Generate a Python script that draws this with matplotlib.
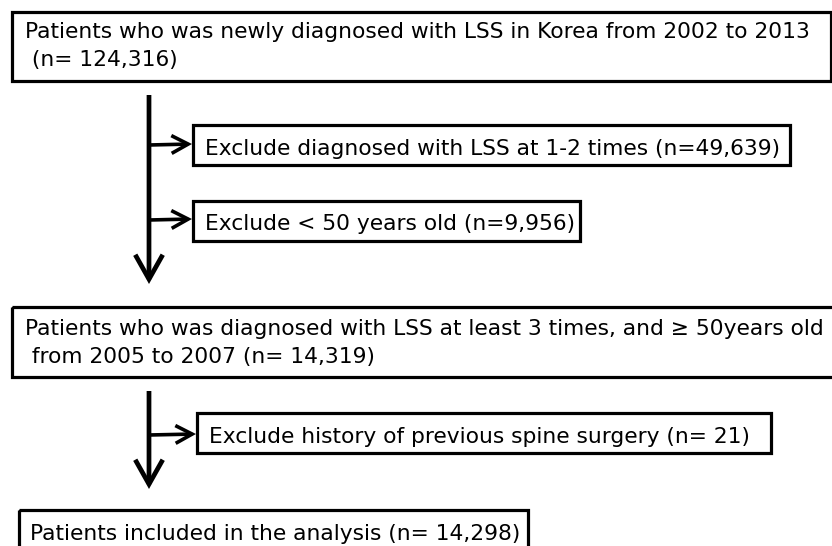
import matplotlib
matplotlib.use("Agg")
import matplotlib.pyplot as plt
from matplotlib.patches import Rectangle, FancyArrowPatch

plt.rcParams['font.family'] = ['DejaVu Sans']

# ---- content ----
main_texts = [
    "Patients who was newly diagnosed with LSS in Korea from 2002 to 2013\n (n= 124,316)",
    "Patients who was diagnosed with LSS at least 3 times, and \u2265 50years old\n from 2005 to 2007 (n= 14,319)",
    "Patients included in the analysis (n= 14,298)",
]
exclude_texts = [
    "Exclude diagnosed with LSS at 1-2 times (n=49,639)",
    "Exclude < 50 years old (n=9,956)",
    "Exclude history of previous spine surgery (n= 21)",
]

# ---- layout (pixel space) ----
W, H = 832, 546
main_boxes = [  # x0, y0, x1, y1
    (12, 12, 831, 81),
    (12, 307, 834, 377),
    (19, 510, 528, 560),
]
main_text_pos = [(25, 38), (25, 335), (30, 540)]
excl_boxes = [
    (193, 125, 790, 165),
    (193, 201, 580, 241),
    (197, 413, 771, 453),
]
excl_text_pos = [(205, 155), (205, 230), (209, 443)]
vert_arrows = [(149, 95, 284), (149, 391, 489)]
branch_arrows = [(149, 145, 193), (149, 220, 193), (149, 435, 197)]
TARGET_W = 785  # width of first text line in pixels

fig = plt.figure(figsize=(W / 100, H / 100), dpi=100)
ax = fig.add_axes([0, 0, 1, 1])
ax.set_xlim(0, W)
ax.set_ylim(H, 0)
ax.axis('off')

# fit font size to the reference text width
renderer = fig.canvas.get_renderer()
probe = ax.text(0, 0, main_texts[0].split("\n")[0], fontsize=14)
w = probe.get_window_extent(renderer).width
probe.remove()
FS = 14 * TARGET_W / w

for (x0, y0, x1, y1), txt, (tx, ty) in zip(main_boxes, main_texts, main_text_pos):
    ax.add_patch(Rectangle((x0, y0), x1 - x0, y1 - y0, fill=False,
                           edgecolor='black', linewidth=2.3, clip_on=False))
    lines = txt.split("\n")
    for i, ln in enumerate(lines):
        ax.text(tx, ty + 28 * i, ln, ha='left', va='baseline', fontsize=FS, color='black')

for (x0, y0, x1, y1), txt, (tx, ty) in zip(excl_boxes, exclude_texts, excl_text_pos):
    ax.add_patch(Rectangle((x0, y0), x1 - x0, y1 - y0, fill=False,
                           edgecolor='black', linewidth=2.3))
    ax.text(tx, ty, txt, ha='left', va='baseline', fontsize=FS, color='black')

for x, y0, y1 in vert_arrows:
    ax.add_patch(FancyArrowPatch((x, y0), (x, y1),
                                 arrowstyle='->,head_length=0.8,head_width=0.45',
                                 mutation_scale=22, linewidth=3.4, color='black',
                                 shrinkA=0, shrinkB=0, joinstyle='miter', capstyle='butt'))

for x0, y, x1 in branch_arrows:
    ax.add_patch(FancyArrowPatch((x0, y), (x1 - 1, y - 1),
                                 arrowstyle='->,head_length=0.75,head_width=0.4',
                                 mutation_scale=16, linewidth=2.6, color='black',
                                 shrinkA=0, shrinkB=0, joinstyle='miter', capstyle='butt'))

fig.savefig("out.png", dpi=100, facecolor='white')
